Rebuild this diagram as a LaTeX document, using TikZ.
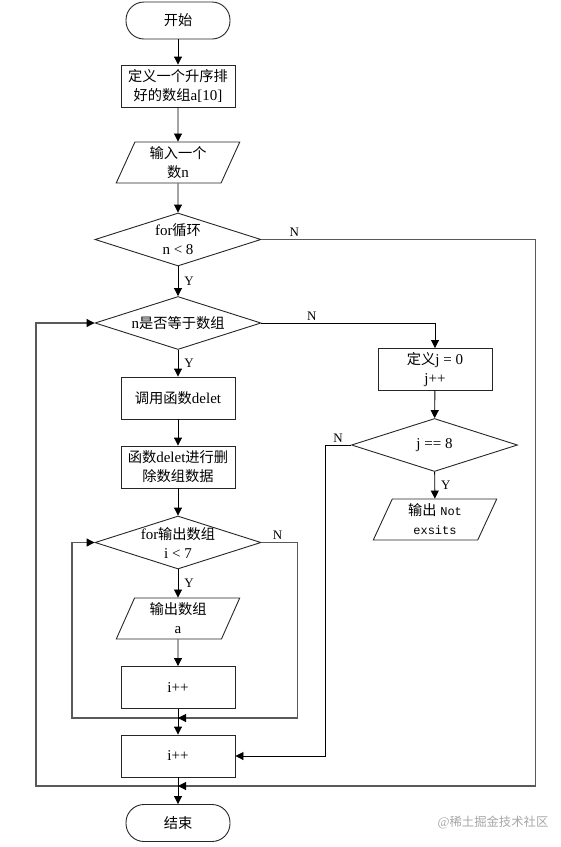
\documentclass[tikz,border=0pt]{standalone}
\usepackage{fontspec}
\setmainfont{Liberation Serif}
\setmonofont{Liberation Mono}
\newfontfamily\cjk[Scale=0.95]{Noto Sans CJK SC}
\usetikzlibrary{shapes.geometric,arrows.meta}

\begin{document}
\begin{tikzpicture}[x=1pt, y=-1pt,
    every node/.style={inner sep=0pt, align=center, font=\fontsize{15}{19}\selectfont},
    term/.style={rectangle, rounded corners=18pt, draw=black!85, line width=0.9pt, minimum width=104pt, minimum height=37pt},
    box/.style={rectangle, draw=black!85, line width=0.9pt, minimum width=114pt, minimum height=42pt},
    io/.style={trapezium, trapezium left angle=69, trapezium right angle=111, trapezium stretches=true, draw=black!85, line width=0.9pt, minimum width=124pt, minimum height=41pt},
    cond/.style={diamond, draw=black!85, line width=0.9pt, minimum width=166pt, minimum height=53pt},
    arr/.style={-{Triangle[length=8pt,width=8pt]}, line width=0.9pt},
    back/.style={-{Triangle[length=8pt,width=8pt,color=black]}, draw=black!65, line width=1.1pt},
    yn/.style={font=\fontsize{13}{13}\selectfont, inner sep=2pt}]
    \useasboundingbox (0,0) rectangle (561,847);

    \node[term] (start) at (178,20.5) {{\cjk 开始}};
    \node[box] (A) at (178,86) {{\cjk 定义一个升序排}\\{\cjk 好的数组}a[10]};
    \node[io] (B) at (178,162.5) {{\cjk 输入一个}\\{\cjk 数}n};
    \node[cond, label={center:{for{\cjk 循环}\\n < 8}}] (C) at (178,239.5) {};
    \node[cond, label={center:{n{\cjk 是否等于数组}}}] (D) at (178,323) {};
    \node[box] (F) at (178,398) {{\cjk 调用函数}delet};
    \node[box] (G) at (178,467) {{\cjk 函数}delet{\cjk 进行删}\\{\cjk 除数组数据}};
    \node[cond, label={center:{for{\cjk 输出数组}\\i < 7}}] (H) at (178,542.5) {};
    \node[io] (I) at (178,618.5) {{\cjk 输出数组}\\a};
    \node[box] (J) at (178,687.5) {i++};
    \node[box] (K) at (178,756) {i++};
    \node[term] (stop) at (178,823) {{\cjk 结束}};

    \node[box] (E) at (435,369.5) {{\cjk 定义}j = 0\\j++};
    \node[cond, label={center:{j == 8}}] (L) at (434.5,445) {};
    \node[io] (M) at (435,519.5) {{\cjk 输出} {\ttfamily\fontsize{12}{19}\selectfont Not}\\{\ttfamily\fontsize{12}{19}\selectfont exsits}};

    \coordinate (m1) at (178,718);
    \coordinate (m2) at (178,786);

    \draw[arr] (start) -- (A);
    \draw[arr] (A) -- (B);
    \draw[arr] (B) -- (C);
    \draw[arr] (C) -- node[yn, right=4pt] {Y} (D);
    \draw[arr] (D) -- node[yn, right=4pt] {Y} (F);
    \draw[arr] (F) -- (G);
    \draw[arr] (G) -- (H);
    \draw[arr] (H) -- node[yn, right=4pt] {Y} (I);
    \draw[arr] (I) -- (J);
    \draw[arr] (J) -- (K);
    \draw[arr] (K) -- (stop);

    \draw[arr] (D.east) -- node[yn, above, pos=0.29] {N} (E.north |- D.east) -- (E.north);
    \draw[arr] (E) -- (L);
    \draw[arr] (L) -- node[yn, right=4pt] {Y} (M);
    \draw[arr] (L.west) -- node[yn, above] {N} ++(-26,0) |- (K.east);

    % loops
    \draw[back] (H.east) -- node[yn, above, pos=0.45] {N} ++(36,0) |- (m1);
    \draw[back] (m1) -- ++(-106,0) |- (H.west);
    \draw[back] (C.east) -- node[yn, above, pos=0.12] {N} ++(274,0) |- (m2);
    \draw[back] (m2) -- ++(-142,0) |- (D.west);

    \node[text=black!35, font=\fontsize{13}{13}\selectfont] (wm) at (493,822) {@{\cjk 稀土掘金技术社区}};
\end{tikzpicture}
\end{document}
